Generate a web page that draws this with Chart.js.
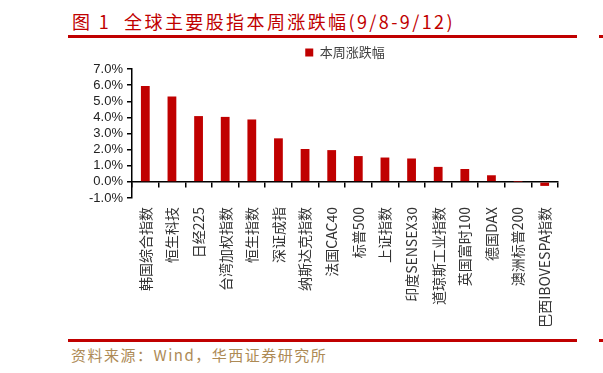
<!DOCTYPE html>
<html>
<head>
<meta charset="utf-8">
<script src="https://cdn.jsdelivr.net/npm/chart.js@4"></script>
<style>
  body { margin: 0; background: #fff; width: 603px; height: 373px; overflow: hidden; position: relative; font-family: "Noto Sans CJK SC", sans-serif; }
  #title { position: absolute; left: 72px; top: 8px; font-size: 18px; letter-spacing: 2.4px; color: #c00000; white-space: pre; }
  .rule { position: absolute; left: 68px; width: 509px; height: 3px; background: #c00000; }
  .stub { position: absolute; left: 599px; width: 4px; height: 3px; background: #c00000; }
  #source { position: absolute; left: 71px; top: 344px; font-size: 15px; letter-spacing: 1.5px; color: #ad8a55; white-space: pre; }
  #box { position: absolute; left: 60px; top: 40px; width: 520px; height: 297px; }
</style>
</head>
<body>
<div id="title">图 1  全球主要股指本周涨跌幅(9/8-9/12)</div>
<div class="rule" style="top:35px"></div>
<div class="stub" style="top:35px"></div>
<div id="box"><canvas id="chart"></canvas></div>
<div class="rule" style="top:339px"></div>
<div class="stub" style="top:339px"></div>
<div id="source">资料来源：Wind，华西证券研究所</div>
<script>
const categories = ['韩国综合指数', '恒生科技', '日经225', '台湾加权指数', '恒生指数', '深证成指', '纳斯达克指数', '法国CAC40',
  '标普500', '上证指数', '印度SENSEX30', '道琼斯工业指数', '英国富时100', '德国DAX', '澳洲标普200', '巴西IBOVESPA指数'];
const weeklyChange = [5.95, 5.3, 4.08, 4.03, 3.87, 2.7, 2.04, 1.97, 1.6, 1.51, 1.45, 0.93, 0.8, 0.41, 0.01, -0.25];
const seriesName = '本周涨跌幅';
const yMin = -1, yMax = 7, yStep = 1;

const red = '#c00000';

new Chart(document.getElementById('chart'), {
  type: 'bar',
  data: {
    labels: categories,
    datasets: [{
      label: seriesName,
      data: weeklyChange,
      backgroundColor: red,
      borderWidth: 0,
      categoryPercentage: 1,
      barPercentage: 0.33,
      xAxisID: 'x'
    }]
  },
  options: {
    responsive: true,
    maintainAspectRatio: false,
    animation: false,
    layout: { padding: { top: 6, right: 22, left: 0, bottom: 0 } },
    plugins: {
      tooltip: { enabled: false },
      legend: {
        position: 'top',
        fullSize: false,
        labels: {
          boxWidth: 8, boxHeight: 8, padding: 0,
          color: '#404040',
          font: { family: '"Noto Sans CJK SC"', size: 13 }
        }
      }
    },
    scales: {
      x: {
        position: 'bottom',
        grid: { display: false, drawTicks: false },
        border: { display: false },
        ticks: {
          autoSkip: false, minRotation: 90, maxRotation: 90, padding: 9,
          color: '#333',
          font: { family: '"Noto Sans CJK SC"', size: 14 }
        },
        afterFit: (s) => { s.height = 139; }
      },
      x2: {
        type: 'category',
        labels: categories,
        position: { y: 0 },
        offset: true,
        grid: { offset: true, drawOnChartArea: false, drawTicks: true, tickLength: 5, color: '#000', lineWidth: 1.5 },
        border: { color: '#000', width: 1.5 },
        ticks: { display: false }
      },
      y: {
        min: yMin, max: yMax,
        grid: { drawOnChartArea: false, drawTicks: true, tickLength: 5, color: '#000', lineWidth: 1.5 },
        border: { color: '#000', width: 1.5 },
        ticks: {
          stepSize: yStep, padding: 4, autoSkip: false,
          color: '#222',
          font: { family: '"Liberation Sans"', size: 13 },
          callback: (v) => v.toFixed(1) + '%'
        },
        afterFit: (s) => { s.width = 72; }
      }
    }
  }
});
</script>
</body>
</html>
